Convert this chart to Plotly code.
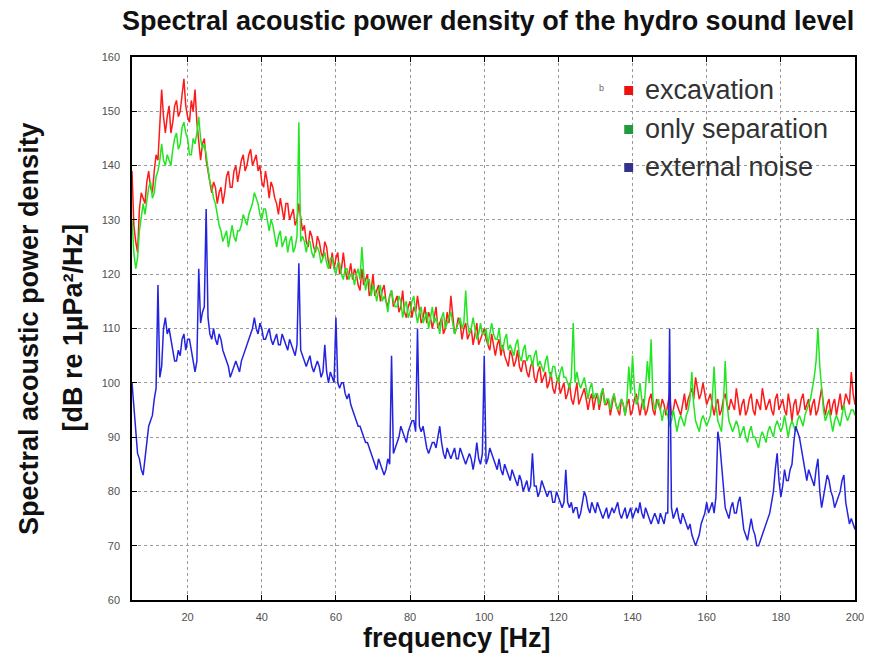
import plotly.graph_objects as go

# Frequency bins (Hz): whole-hertz bins and the half-hertz bins between them
freq = list(range(5, 201))
freq_half = [f + 0.5 for f in range(5, 200)]

# Spectral acoustic power density, dB re 1 uPa^2/Hz
excavation = [
    139, 126, 132, 134, 137, 136, 139, 141, 154, 146,
    151, 148, 152, 150, 156, 149, 152, 154, 145, 144,
    141, 137, 137, 133, 136, 135, 139, 136, 140, 139,
    142, 140, 143, 141, 139, 137, 139, 134, 136, 133,
    134, 130, 133, 131, 129, 133, 128, 126, 128, 125,
    127, 124, 126, 122, 124, 123, 120, 124, 119, 122,
    121, 118, 121, 119, 116, 120, 117, 115, 118, 114,
    117, 115, 113, 117, 112, 115, 114, 116, 111, 114,
    113, 110, 114, 111, 109, 113, 116, 109, 112, 108,
    111, 109, 107, 111, 108, 110, 107, 109, 105, 108,
    107, 104, 106, 103, 106, 102, 104, 101, 104, 100,
    103, 101, 99, 102, 98, 101, 99, 97, 100, 96,
    100, 97, 99, 95, 98, 97, 95, 99, 96, 94,
    98, 95, 97, 94, 97, 95, 98, 94, 97, 95,
    98, 94, 96, 97, 94, 98, 95, 96, 94, 98,
    97, 99, 101, 97, 100, 96, 98, 94, 97, 95,
    98, 95, 96, 99, 94, 97, 95, 98, 94, 96,
    99, 95, 97, 94, 98, 96, 95, 98, 93, 97,
    95, 98, 96, 94, 97, 95, 99, 94, 97, 96,
    94, 98, 96, 97, 102, 96,
]
excavation_half = [
    129, 124, 135, 133, 139, 135, 142, 147, 149, 149,
    146, 151, 149, 153, 151, 148, 150, 148, 141, 145,
    139, 135, 136, 135, 133, 138, 136, 139, 137, 141,
    139, 142, 140, 142, 140, 136, 137, 137, 134, 131,
    132, 133, 130, 132, 130, 130, 129, 125, 127, 124,
    126, 123, 125, 121, 121, 124, 121, 121, 120, 119,
    120, 117, 118, 120, 117, 116, 118, 117, 115, 116,
    114, 116, 114, 113, 114, 112, 113, 113, 112, 111,
    112, 112, 110, 112, 110, 111, 112, 110, 111, 110,
    108, 110, 109, 107, 109, 108, 106, 107, 107, 105,
    105, 103, 105, 104, 103, 104, 102, 103, 101, 102,
    100, 102, 100, 99, 100, 98, 100, 98, 97, 98,
    96, 98, 97, 97, 95, 98, 97, 96, 97, 96,
    96, 94, 96, 96, 94, 97, 96, 96, 94, 97,
    95, 97, 95, 96, 96, 94, 97, 95, 96, 95,
    98, 97, 99, 98, 98, 97, 96, 96, 94, 97,
    96, 97, 95, 96, 96, 94, 97, 95, 97, 95,
    97, 96, 95, 97, 95, 97, 94, 96, 96, 94,
    97, 95, 97, 96, 94, 97, 96, 96, 94, 97,
    96, 95, 98, 96, 98,
]

only_separation = [
    130, 121, 128, 133, 134, 137, 135, 139, 144, 140,
    141, 143, 146, 144, 148, 145, 142, 144, 149, 143,
    142, 137, 134, 131, 128, 127, 125, 129, 126, 128,
    131, 129, 132, 135, 133, 130, 132, 128, 129, 125,
    128, 126, 124, 127, 125, 148, 127, 124, 126, 123,
    125, 122, 124, 121, 123, 120, 122, 119, 121, 120,
    118, 121, 125, 117, 119, 118, 115, 118, 116, 113,
    117, 114, 116, 112, 115, 113, 116, 111, 114, 112,
    110, 114, 112, 109, 113, 111, 113, 109, 111, 110,
    117, 109, 112, 108, 111, 109, 107, 111, 108, 110,
    106, 109, 107, 105, 108, 104, 107, 105, 103, 106,
    104, 102, 105, 101, 103, 100, 103, 101, 99, 111,
    102, 99, 101, 97, 100, 98, 96, 99, 97, 95,
    98, 95, 97, 94, 103, 105, 96, 100, 95, 104,
    108, 95, 97, 93, 95, 92, 95, 91, 94, 92,
    95, 102, 93, 91, 94, 92, 94, 103, 93, 91,
    104, 93, 91, 93, 90, 92, 89, 92, 90, 88,
    91, 89, 92, 90, 93, 91, 94, 90, 93, 91,
    94, 92, 95, 97, 101, 110, 98, 93, 95, 91,
    94, 92, 96, 93, 95, 94,
]
only_separation_half = [
    124, 123, 131, 131, 136, 134, 138, 141, 141, 142,
    140, 145, 143, 147, 146, 142, 145, 146, 145, 144,
    139, 136, 133, 129, 126, 128, 127, 127, 128, 129,
    130, 131, 133, 134, 131, 132, 130, 130, 127, 127,
    125, 127, 126, 124, 127, 126, 126, 126, 124, 125,
    124, 123, 122, 123, 121, 122, 120, 121, 119, 120,
    120, 119, 120, 119, 116, 117, 117, 115, 115, 116,
    115, 114, 115, 114, 112, 115, 113, 113, 111, 113,
    112, 111, 111, 112, 110, 112, 111, 110, 112, 111,
    111, 110, 110, 109, 109, 110, 109, 109, 108, 107,
    108, 106, 106, 107, 105, 106, 104, 105, 105, 103,
    103, 104, 102, 103, 101, 102, 101, 100, 101, 100,
    100, 100, 99, 99, 97, 98, 98, 96, 97, 97,
    96, 96, 96, 97, 98, 99, 97, 97, 99, 100,
    97, 96, 95, 95, 94, 93, 93, 93, 93, 94,
    97, 96, 92, 93, 93, 93, 97, 96, 92, 96,
    96, 92, 92, 92, 91, 90, 91, 90, 89, 90,
    90, 91, 91, 92, 92, 92, 92, 92, 92, 93,
    93, 94, 96, 99, 104, 103, 95, 94, 93, 93,
    93, 94, 94, 94, 95,
]

external_noise = [
    100, 91, 86, 83, 89, 93, 97, 118, 103, 112,
    110, 106, 104, 105, 109, 108, 106, 102, 121, 113,
    132, 109, 110, 107, 108, 105, 103, 102, 104, 102,
    105, 107, 109, 112, 109, 110, 108, 110, 107, 109,
    107, 108, 106, 107, 105, 122, 105, 103, 105, 102,
    104, 101, 107, 100, 101, 112, 99, 100, 97, 96,
    94, 92, 91, 89, 88, 86, 84, 85, 83, 86,
    105, 88, 90, 91, 89, 92, 93, 110, 91, 90,
    87, 89, 88, 92, 87, 88, 86, 88, 86, 87,
    85, 87, 84, 89, 85, 105, 86, 87, 85, 86,
    83, 84, 82, 83, 81, 82, 81, 80, 87, 81,
    80, 81, 79, 80, 78, 79, 77, 84, 77, 76,
    77, 76, 80, 77, 78, 76, 77, 75, 77, 76,
    76, 78, 75, 77, 76, 75, 77, 78, 75, 76,
    74, 76, 74, 75, 76, 110, 75, 77, 74, 75,
    73, 72, 70, 72, 75, 78, 77, 76, 91, 85,
    77, 75, 78, 76, 79, 73, 71, 75, 72, 70,
    72, 74, 76, 80, 87, 79, 84, 82, 85, 92,
    90, 86, 82, 83, 81, 86, 77, 81, 82, 79,
    78, 80, 83, 76, 75, 73,
]
external_noise_half = [
    95, 87, 84, 86, 92, 94, 99, 101, 110, 109,
    108, 104, 106, 108, 106, 108, 104, 104, 111, 114,
    112, 108, 108, 109, 106, 104, 101, 103, 103, 104,
    106, 108, 110, 110, 111, 108, 109, 108, 108, 107,
    109, 107, 108, 106, 107, 106, 104, 104, 103, 103,
    103, 102, 102, 102, 100, 100, 100, 98, 98, 95,
    93, 92, 90, 89, 87, 85, 86, 84, 84, 85,
    87, 89, 92, 90, 91, 93, 91, 92, 92, 88,
    88, 89, 90, 89, 86, 87, 87, 86, 88, 86,
    86, 86, 86, 86, 87, 85, 88, 86, 84, 84,
    85, 83, 84, 82, 83, 80, 82, 81, 81, 79,
    82, 80, 80, 78, 80, 78, 78, 78, 78, 77,
    75, 78, 79, 76, 77, 78, 76, 76, 75, 77,
    77, 76, 76, 75, 77, 76, 76, 76, 77, 75,
    75, 75, 76, 74, 76, 77, 76, 75, 76, 74,
    74, 71, 71, 74, 76, 76, 78, 79, 89, 80,
    76, 77, 76, 78, 76, 72, 73, 73, 70, 71,
    73, 75, 78, 84, 82, 81, 82, 84, 89, 91,
    88, 84, 84, 82, 84, 80, 79, 83, 80, 77,
    79, 82, 78, 74, 74,
]

series_names = ["excavation", "only separation", "external noise"]
line_colors = ["#ff1a1a", "#22e622", "#2424e0"]
key_colors = ["#ee1111", "#1f9a3c", "#33338f"]

x_ticks = list(range(20, 201, 20))
y_ticks = list(range(60, 161, 10))


def interleave(whole, half):
    """Merge whole-hertz and half-hertz bins into one spectrum ordered by frequency."""
    assert len(whole) == len(freq) and len(half) == len(freq_half)
    xs, ys = [], []
    for i in range(len(half)):
        xs += [freq[i], freq_half[i]]
        ys += [whole[i], half[i]]
    xs.append(freq[-1])
    ys.append(whole[-1])
    return xs, ys


spectra = [interleave(excavation, excavation_half),
           interleave(only_separation, only_separation_half),
           interleave(external_noise, external_noise_half)]

# plot-area geometry in pixels, used to place free text in paper units
W, H = 876, 655
L, R, T, B = 132, 14, 57, 55
PW, PH = W - L - R, H - T - B


def px(xp):
    return (xp - L) / PW


def py(yp):
    return (H - B - yp) / PH


fig = go.Figure()
for name, (xs, ys), col in zip(series_names, spectra, line_colors):
    fig.add_trace(go.Scatter(x=xs, y=ys, mode="lines", name=name,
                             line=dict(color=col, width=1.5), showlegend=False))

axis_common = dict(
    showgrid=True, gridcolor="#9a9a9a", griddash="dot", gridwidth=1,
    showline=True, linecolor="black", linewidth=1.5, mirror="ticks",
    ticks="inside", ticklen=5, tickcolor="black", tickwidth=1,
    tickfont=dict(family="Liberation Sans, Arial, sans-serif", size=11, color="#505050"),
    zeroline=False,
)

fig.update_layout(
    width=W, height=H,
    margin=dict(l=L, r=R, t=T, b=B),
    paper_bgcolor="white", plot_bgcolor="white",
    xaxis=dict(range=[5, 200], tickvals=x_ticks, ticklabelstandoff=6, **axis_common),
    yaxis=dict(range=[60, 160], tickvals=y_ticks, ticklabelstandoff=8, **axis_common),
)

annotations = [
    dict(text="<b>Spectral acoustic power density of the hydro sound level</b>",
         x=px(491), y=py(21), font=dict(size=27, color="#111111", family="Liberation Sans, Arial")),
    dict(text="<b>Spectral acoustic power density</b>", x=px(28), y=py(328), textangle=-90,
         font=dict(size=27, color="#111111", family="Liberation Sans, Arial")),
    dict(text="<b>[dB re 1µPa²/Hz]</b>", x=px(72), y=py(328), textangle=-90,
         font=dict(size=27, color="#111111", family="Liberation Sans, Arial")),
    dict(text="<b>frequency [Hz]</b>", x=px(460), y=py(638),
         font=dict(size=27, color="#111111", family="Liberation Sans, Arial")),
    dict(text="b", x=px(606), y=py(88), font=dict(size=9, color="#666666", family="Liberation Sans, Arial")),
]

legend_rows = [90, 129, 167]
shapes = []
for name, kc, yy in zip(series_names, key_colors, legend_rows):
    annotations.append(dict(text=name, x=px(648), y=py(yy), xanchor="left",
                            font=dict(size=27, color="#333333", family="Liberation Sans, Arial")))
    shapes.append(dict(type="rect", xref="paper", yref="paper",
                       x0=px(629), x1=px(638), y0=py(yy + 5), y1=py(yy - 4),
                       fillcolor=kc, line=dict(width=0)))

for a in annotations:
    a.setdefault("xref", "paper")
    a.setdefault("yref", "paper")
    a.setdefault("showarrow", False)
    a.setdefault("xanchor", "center")
    a.setdefault("yanchor", "middle")

fig.update_layout(annotations=annotations, shapes=shapes)
fig.write_html("out.html")
